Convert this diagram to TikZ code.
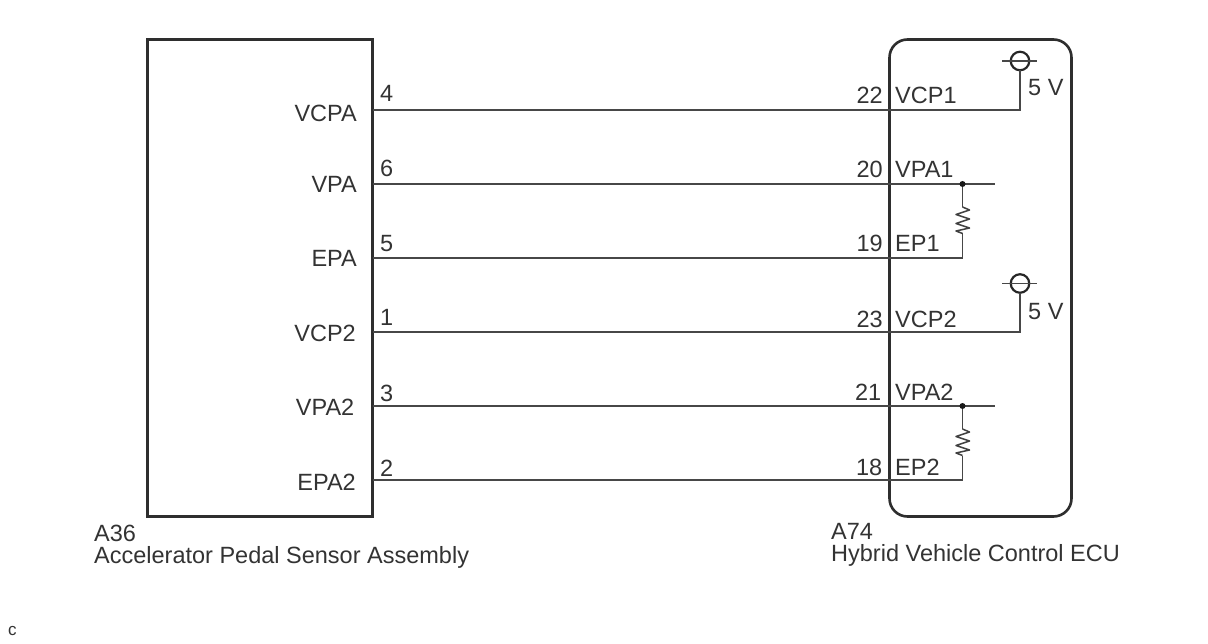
\documentclass[tikz,border=0pt]{standalone}
\usepackage{fontspec}
\setmainfont{Liberation Sans}
\begin{document}
\begin{tikzpicture}[x=1pt,y=-1pt,
 lbl/.style={font=\fontsize{23.5}{26}\selectfont,inner sep=0pt,text=black!80},
 wire/.style={line width=1.8pt,draw=black!72},
 box/.style={line width=2.6pt,draw=black!82,outer sep=0pt},
 sym/.style={circle,draw=black!85,line width=2.2pt,minimum size=18.5pt,inner sep=0pt,outer sep=0pt},
 res/.style={line width=1.5pt,draw=black!75,line join=round},
 dotn/.style={circle,fill=black!90,inner sep=0pt,minimum size=6pt}]
\useasboundingbox[fill=white] (0,0) rectangle (1208,644);
\node[box,minimum width=225pt,minimum height=477pt,inner sep=0pt,anchor=north west] (sensor) at (147.5,39.5) {};
\node[box,rounded corners=18pt,minimum width=182pt,minimum height=477pt,inner sep=0pt,anchor=north west] (ecu) at (889.5,39.5) {};
\foreach \n/\y/\l/\p/\q/\r/\x/\sb/\pb/\qb/\qx in {a/110/VCPA/4/22/VCP1/357/122/102/104/883,b/184/VPA/6/20/VPA1/357/193/177/178/883,c/258/EPA/5/19/EP1/357/267/252/252/883,d/332/VCP2/1/23/VCP2/356/342/326/328/883,e/406/VPA2/3/21/VPA2/354.5/415/401/400/881.5,f/480/EPA2/2/18/EP2/356/490/476/475/882.5}{
 \coordinate (l\n) at (372.5,\y);
 \coordinate (m\n) at (889.5,\y);
 \node[lbl,anchor=base east] (sn\n) at (\x,\sb) {\l};
 \node[lbl,anchor=base west] (pl\n) at (380,\pb) {\p};
 \node[lbl,anchor=base east] (pr\n) at (\qx,\qb) {\q};
 \node[lbl,anchor=base west] (en\n) at (895,\qb) {\r};
}
\node[sym] (s1) at (1020,61) {};
\node[sym] (s2) at (1020,283.5) {};
\draw[wire] (la) -- (ma) -- (s1.south |- ma) -- (s1.south);
\draw[wire] (ld) -- (md) -- (s2.south |- md) -- (s2.south);
\draw[wire] (1002,61) -- (1037,61);
\draw[wire] (1002,283.5) -- (1037,283.5);
\node[lbl,anchor=base west] at (1028,96) {5 V};
\node[lbl,anchor=base west] at (1028,320) {5 V};
\draw[wire] (lb) -- (mb) -- (995,184);
\draw[wire] (le) -- (me) -- (995,406);
\node[dotn] (d1) at (962.5,184) {};
\node[dotn] (d2) at (962.5,406) {};
\draw[wire] (lc) -- (mc) -- (962.5,258) -- (962.5,233.5);
\draw[wire] (lf) -- (mf) -- (962.5,480) -- (962.5,455.5);
\draw[wire] (d1) -- (962.5,207);
\draw[wire] (d2) -- (962.5,429);
\draw[res] (962.5,207) -- (969.5,210) -- (956,214.5) -- (969.5,219) -- (956,223.5) -- (969.5,228) -- (956,231) -- (962.5,233.5);
\draw[res] (962.5,429) -- (969.5,432) -- (956,436.5) -- (969.5,441) -- (956,445.5) -- (969.5,450) -- (956,453) -- (962.5,455.5);
\node[lbl,anchor=base west] at (94,541) {A36};
\node[lbl,anchor=base west] at (94,563) {Accelerator Pedal Sensor Assembly};
\node[lbl,anchor=base west] at (831,539) {A74};
\node[lbl,anchor=base west] at (831,561) {Hybrid Vehicle Control ECU};
\node[lbl,anchor=base west,font=\fontsize{17}{20}\selectfont] at (8,635) {c};
\end{tikzpicture}
\end{document}
